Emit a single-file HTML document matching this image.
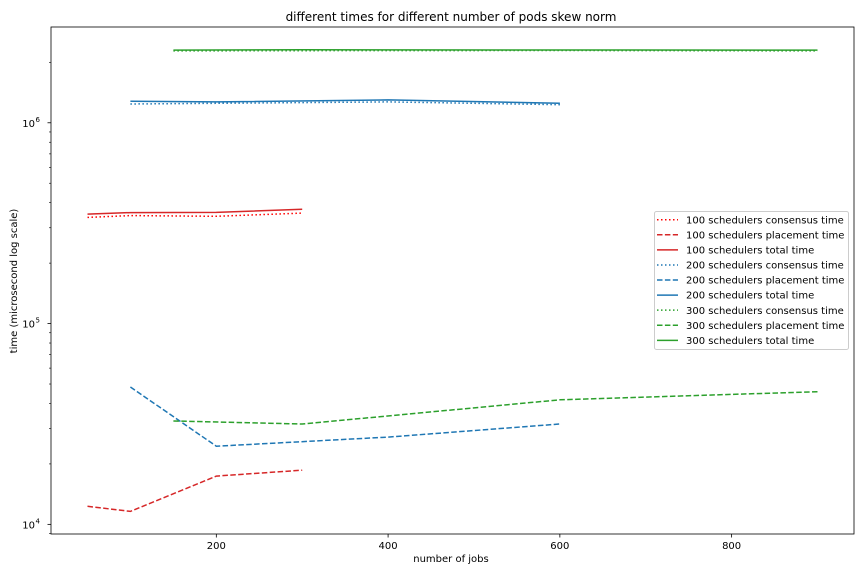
<!DOCTYPE html>
<html><head><meta charset="utf-8"><style>
body{margin:0;background:#fff;}
svg{display:block;font-family:"DejaVu Sans","Liberation Sans",sans-serif;}
</style></head><body>
<svg id="chart" width="864" height="576" viewBox="0 0 864 576">
<rect width="864" height="576" fill="#fff"/>
<text x="451" y="21" font-size="12" text-anchor="middle">different times for different number of pods skew norm</text>
<g id="marks"></g>
<g id="axes"></g>
<text x="451" y="562" font-size="10" text-anchor="middle">number of jobs</text>
<text transform="translate(17,281) rotate(-90)" font-size="10" text-anchor="middle">time (microsecond log scale)</text>
<g id="legend"></g>
</svg>
<script>
const x100 = [50, 100, 200, 300];
const x200 = [100, 200, 400, 600];
const x300 = [150, 300, 600, 900];
const cons100 = [338000, 345000, 342000, 355000];
const place100 = [12300, 11600, 17400, 18600];
const total100 = [351000, 357000, 358000, 371000];
const cons200 = [1240000, 1250000, 1270000, 1230000];
const place200 = [48300, 24500, 27200, 31600];
const total200 = [1280000, 1270000, 1300000, 1250000];
const cons300 = [2280000, 2285000, 2290000, 2280000];
const place300 = [32700, 31600, 41700, 45800];
const total300 = [2300000, 2310000, 2305000, 2300000];
const xTicks = [200, 400, 600, 800];
const yTicks = [4, 5, 6];

const L=51,R=854,T=27,B=534;
const xmin=7.5,xmax=942.5;
const ymin=3.952,ymax=6.477;
const sx=v=>L+(v-xmin)/(xmax-xmin)*(R-L);
const sy=v=>B-(Math.log10(v)-ymin)/(ymax-ymin)*(B-T);
const NS="http://www.w3.org/2000/svg";
function mk(tag,attrs,parent){const e=document.createElementNS(NS,tag);for(const k in attrs)e.setAttribute(k,attrs[k]);parent.appendChild(e);return e;}
const marks=document.getElementById('marks');
const axes=document.getElementById('axes');
const dash={dotted:"1.5,2.5",dashed:"5.5,2.4",solid:"none"};
const series=[
 ["100 schedulers consensus time",x100,cons100,"#ff0000","dotted"],
 ["100 schedulers placement time",x100,place100,"#d62728","dashed"],
 ["100 schedulers total time",x100,total100,"#d62728","solid"],
 ["200 schedulers consensus time",x200,cons200,"#1f77b4","dotted"],
 ["200 schedulers placement time",x200,place200,"#1f77b4","dashed"],
 ["200 schedulers total time",x200,total200,"#1f77b4","solid"],
 ["300 schedulers consensus time",x300,cons300,"#2ca02c","dotted"],
 ["300 schedulers placement time",x300,place300,"#2ca02c","dashed"],
 ["300 schedulers total time",x300,total300,"#2ca02c","solid"]];
series.forEach(s=>{
 const pts=s[1].map((x,i)=>sx(x).toFixed(1)+","+sy(s[2][i]).toFixed(1)).join(" ");
 const p=mk('polyline',{points:pts,fill:"none",stroke:s[3],"stroke-width":1.5,"stroke-dasharray":dash[s[4]]},marks);
 
 
});
const frame=mk('rect',{x:L,y:T,width:R-L,height:B-T,fill:"none",stroke:"#000","stroke-width":0.8},axes);


xTicks.forEach(t=>{
 const x=sx(t);
 mk('line',{x1:x,x2:x,y1:B,y2:B+3.5,stroke:"#000","stroke-width":0.8},axes);
 const tx=mk('text',{x:x,y:B+15,"font-size":10,"text-anchor":"middle"},axes);
 tx.textContent=t;
 
 
});
for(let d=3;d<=6;d++){for(let m=1;m<10;m++){
 const v=m*Math.pow(10,d);const lv=Math.log10(v);
 if(lv<ymin||lv>ymax)continue;
 const y=sy(v);
 mk('line',{x1:L,x2:L-(m===1?3.5:2),y1:y,y2:y,stroke:"#000","stroke-width":m===1?0.8:0.6},axes);
}}
yTicks.forEach(t=>{
 const y=sy(Math.pow(10,t));
 const tx=mk('text',{x:L-16,y:y+4,"font-size":10,"text-anchor":"end"},axes);
 tx.textContent="10";
 
 
 const sup=mk('text',{x:L-15.5,y:y-1,"font-size":7},axes);
 sup.textContent=t;
});
const lg=document.getElementById('legend');
mk('rect',{x:654.5,y:211.5,width:194,height:138,rx:2,fill:"#fff","fill-opacity":0.8,stroke:"#ccc"},lg);
series.forEach((s,i)=>{
 const y=219.7+i*15.08;
 const g=mk('g',{},lg);
 
 
 mk('line',{x1:657,x2:678,y1:y,y2:y,stroke:s[3],"stroke-width":1.5,"stroke-dasharray":dash[s[4]]},g);
 const t=mk('text',{x:686,y:y+3.6,"font-size":10},g);
 t.textContent=s[0];
});
</script>
</body></html>
